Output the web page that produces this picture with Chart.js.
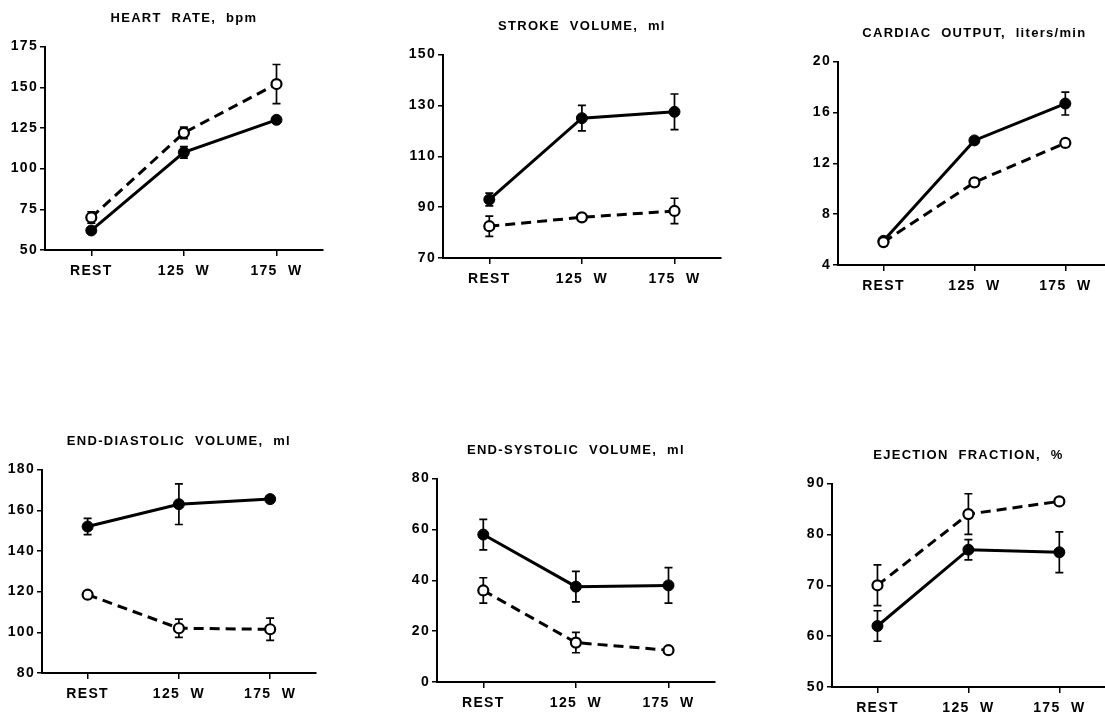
<!DOCTYPE html>
<html>
<head>
<meta charset="utf-8">
<script src="https://cdn.jsdelivr.net/npm/chart.js@4.4.0/dist/chart.umd.min.js"></script>
<style>
  html, body { margin: 0; padding: 0; background: #fff; width: 1105px; height: 717px; overflow: hidden; }
  .panel { position: absolute; height: 285px; }
  #p1 { left: 0px;   top: 5px;   width: 330px; }
  #p2 { left: 398px; top: 13px;  width: 330px; }
  #p3 { left: 793px; top: 20px;  width: 325px; }
  #p4 { left: -3px;  top: 428px; width: 326px; }
  #p5 { left: 392px; top: 437px; width: 330px; }
  #p6 { left: 787px; top: 442px; width: 325px; }
</style>
</head>
<body>
<div class="panel" id="p1"><canvas id="c1"></canvas></div>
<div class="panel" id="p2"><canvas id="c2"></canvas></div>
<div class="panel" id="p3"><canvas id="c3"></canvas></div>
<div class="panel" id="p4"><canvas id="c4"></canvas></div>
<div class="panel" id="p5"><canvas id="c5"></canvas></div>
<div class="panel" id="p6"><canvas id="c6"></canvas></div>
<script>
"use strict";

var stages = ["REST", "125  W", "175  W"];

// heart rate, bpm
var hrTicks = [50, 75, 100, 125, 150, 175];
var hrClosed = [62, 110, 130];
var hrClosedErr = [1.5, 3.5, 1.5];
var hrOpen = [70, 122, 152];
var hrOpenErr = [3.5, 3.5, 12];

// stroke volume, ml
var svTicks = [70, 90, 110, 130, 150];
var svClosed = [93, 125, 127.5];
var svClosedErr = [2.5, 5, 7];
var svOpen = [82.5, 86, 88.5];
var svOpenErr = [4, 1, 5];

// cardiac output, l/min
var coTicks = [4, 8, 12, 16, 20];
var coClosed = [5.9, 13.8, 16.7];
var coClosedErr = [0, 0.2, 0.9];
var coOpen = [5.8, 10.5, 13.6];
var coOpenErr = [0.2, 0.3, 0.3];

// end-diastolic volume, ml
var edvTicks = [80, 100, 120, 140, 160, 180];
var edvClosed = [152, 163, 165.5];
var edvClosedErr = [4, 10, 0];
var edvOpen = [118.5, 102, 101.5];
var edvOpenErr = [0, 4.5, 5.5];

// end-systolic volume, ml
var esvTicks = [0, 20, 40, 60, 80];
var esvClosed = [58, 37.5, 38];
var esvClosedErr = [6, 6, 7];
var esvOpen = [36, 15.5, 12.5];
var esvOpenErr = [5, 4, 0];

// ejection fraction, %
var efTicks = [50, 60, 70, 80, 90];
var efClosed = [62, 77, 76.5];
var efClosedErr = [3, 2, 4];
var efOpen = [70, 84, 86.5];
var efOpenErr = [4, 4, 0.5];

var FONT = "'Liberation Sans', Arial, Helvetica, sans-serif";

// wide letter spacing like the old typeset labels
var spacing = {
  id: "spacing",
  beforeUpdate: function (chart) { chart.ctx.letterSpacing = "1.3px"; },
  beforeDraw: function (chart) { chart.ctx.letterSpacing = "1.3px"; }
};

// vertical error bars with caps, under the points
var errorBars = {
  id: "errorBars",
  beforeDatasetsDraw: function (chart) {
    var ctx = chart.ctx;
    var ys = chart.scales.y;
    chart.data.datasets.forEach(function (ds, i) {
      if (!ds.errors) return;
      var meta = chart.getDatasetMeta(i);
      ctx.save();
      ctx.strokeStyle = "#000";
      ctx.lineWidth = 1.7;
      meta.data.forEach(function (pt, j) {
        var e = ds.errors[j];
        if (!e) return;
        var top = ys.getPixelForValue(ds.data[j] + e);
        var bot = ys.getPixelForValue(ds.data[j] - e);
        ctx.beginPath();
        ctx.moveTo(pt.x, top); ctx.lineTo(pt.x, bot);
        ctx.moveTo(pt.x - 4, top); ctx.lineTo(pt.x + 4, top);
        ctx.moveTo(pt.x - 4, bot); ctx.lineTo(pt.x + 4, bot);
        ctx.stroke();
      });
      ctx.restore();
    });
  }
};

function makePanel(id, title, ticks, closed, closedErr, open, openErr) {
  new Chart(document.getElementById(id), {
    type: "line",
    data: {
      labels: stages,
      // open circles first so they sit on top
      datasets: [{
        data: open,
        errors: openErr,
        borderColor: "#000",
        borderWidth: 3,
        borderDash: [10, 6],
        pointRadius: 5,
        pointBackgroundColor: "#fff",
        pointBorderColor: "#000",
        pointBorderWidth: 2.2,
        tension: 0
      }, {
        data: closed,
        errors: closedErr,
        borderColor: "#000",
        borderWidth: 3,
        pointRadius: 5.5,
        pointBackgroundColor: "#000",
        pointBorderColor: "#000",
        pointBorderWidth: 1,
        tension: 0
      }]
    },
    options: {
      responsive: true,
      maintainAspectRatio: false,
      animation: false,
      layout: { padding: 0 },
      plugins: {
        legend: { display: false },
        tooltip: { enabled: false },
        title: {
          display: true,
          text: title,
          fullSize: false,
          color: "#000",
          font: { family: FONT, size: 13, weight: "bold" },
          padding: { top: 6, bottom: 20 }
        }
      },
      scales: {
        x: {
          type: "category",
          offset: true,
          afterFit: function (s) { s.height = 40; },
          border: { display: true, color: "#000", width: 2 },
          grid: { offset: false, drawOnChartArea: false, drawTicks: true, tickLength: 6, color: "#000", lineWidth: 1.5 },
          ticks: { color: "#000", padding: 7, maxRotation: 0, autoSkip: false, font: { family: FONT, size: 14, weight: "bold" } }
        },
        y: {
          min: ticks[0],
          max: ticks[ticks.length - 1],
          afterBuildTicks: function (s) { s.ticks = ticks.map(function (v) { return { value: v }; }); },
          afterFit: function (s) { s.width = 45; },
          border: { display: true, color: "#000", width: 2 },
          grid: { drawOnChartArea: false, drawTicks: true, tickLength: 5, color: "#000", lineWidth: 1.5 },
          ticks: { color: "#000", padding: 2, font: { family: FONT, size: 14, weight: "bold" } }
        }
      }
    },
    plugins: [spacing, errorBars]
  });
}

makePanel("c1", "HEART  RATE,  bpm", hrTicks, hrClosed, hrClosedErr, hrOpen, hrOpenErr);
makePanel("c2", "STROKE  VOLUME,  ml", svTicks, svClosed, svClosedErr, svOpen, svOpenErr);
makePanel("c3", "CARDIAC  OUTPUT,  liters/min", coTicks, coClosed, coClosedErr, coOpen, coOpenErr);
makePanel("c4", "END-DIASTOLIC  VOLUME,  ml", edvTicks, edvClosed, edvClosedErr, edvOpen, edvOpenErr);
makePanel("c5", "END-SYSTOLIC  VOLUME,  ml", esvTicks, esvClosed, esvClosedErr, esvOpen, esvOpenErr);
makePanel("c6", "EJECTION  FRACTION,  %", efTicks, efClosed, efClosedErr, efOpen, efOpenErr);
</script>
</body>
</html>
